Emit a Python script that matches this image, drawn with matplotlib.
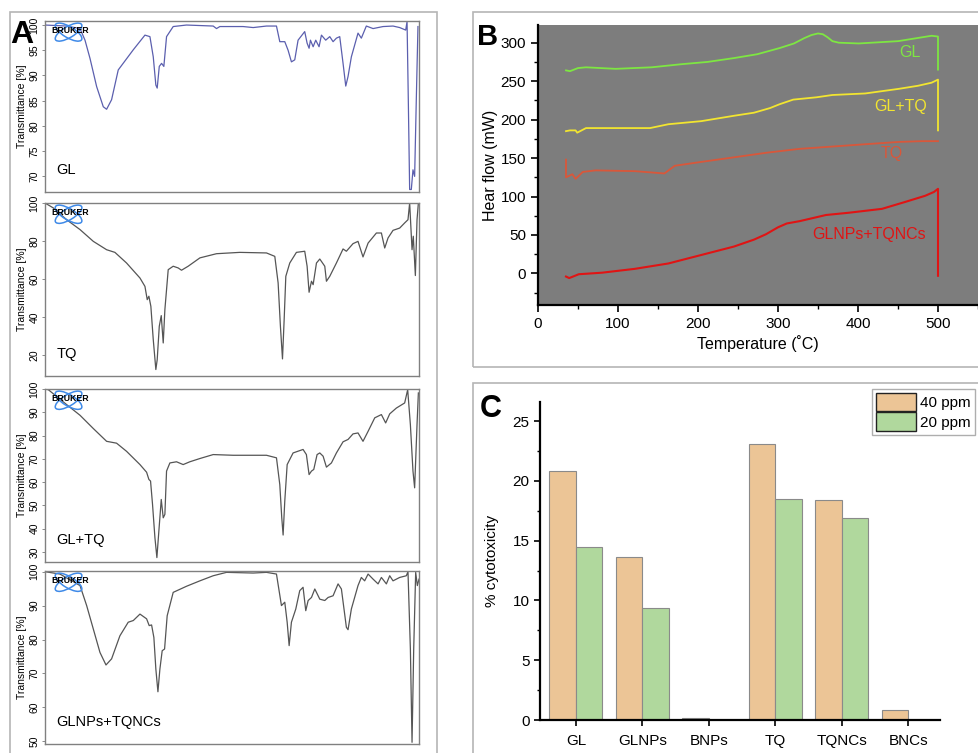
import numpy as np
import matplotlib
matplotlib.use("Agg")
import matplotlib.pyplot as plt
from matplotlib.patches import Ellipse, Rectangle
from matplotlib.ticker import MultipleLocator

plt.rcParams['font.family'] = ['Liberation Sans', 'DejaVu Sans']

# ---- panel A: FTIR spectra (wavenumber cm-1, transmittance %) ----
gl_wn = [4000, 3792, 3663, 3615, 3567, 3503, 3439, 3407, 3359, 3295, 3150, 3038, 2990, 2958, 2933, 2920,
         2900, 2878, 2856, 2830, 2766, 2638, 2381, 2349, 2317, 2093, 1996, 1868, 1772, 1740, 1692, 1660,
         1628, 1596, 1564, 1500, 1477, 1458, 1445, 1419, 1394, 1362, 1339, 1298, 1259, 1227, 1195, 1163,
         1131, 1105, 1083, 1051, 987, 955, 907, 842, 746, 650, 586, 528, 515, 503, 490, 474, 458, 442,
         426, 410]
gl_tr = [100.0, 99.8, 99.3, 97.0, 93.4, 87.8, 83.8, 83.3, 85.2, 91.1, 95.1, 98.0, 97.7, 93.7, 88.1, 87.5,
         91.8, 92.4, 91.8, 97.7, 99.7, 100.0, 99.8, 99.3, 99.7, 99.7, 99.5, 99.8, 99.8, 96.7, 96.7, 95.0,
         92.7, 93.1, 97.0, 98.7, 96.4, 95.4, 97.0, 95.7, 97.0, 95.7, 98.0, 97.0, 97.7, 96.7, 97.4, 97.7,
         92.4, 87.9, 89.8, 93.7, 98.4, 97.4, 99.8, 99.3, 99.7, 99.8, 99.5, 99.0, 100.7, 85.2, 67.4, 67.4,
         71.3, 70.0, 85.2, 99.7]

tq_wn = [4000, 3920, 3792, 3663, 3535, 3407, 3327, 3215, 3086, 3038, 3016, 3000, 2981, 2958, 2933, 2920,
         2900, 2881, 2862, 2846, 2814, 2766, 2718, 2686, 2622, 2509, 2349, 2125, 1868, 1788, 1756, 1734,
         1714, 1698, 1682, 1644, 1580, 1500, 1477, 1458, 1435, 1419, 1387, 1355, 1307, 1291, 1259, 1195,
         1131, 1099, 1035, 987, 939, 890, 810, 762, 730, 698, 650, 586, 538, 506, 490, 467, 455, 435,
         419, 406]
tq_tr = [100.0, 97.4, 91.2, 86.0, 79.8, 75.4, 74.0, 68.4, 60.5, 56.1, 49.1, 50.9, 45.6, 28.1, 12.3, 17.5,
         35.1, 40.7, 26.3, 43.9, 64.9, 66.7, 65.8, 64.6, 66.7, 71.1, 73.3, 74.0, 73.7, 71.9, 57.9, 35.1,
         17.9, 38.6, 61.4, 68.4, 74.0, 74.6, 66.7, 53.0, 58.8, 57.0, 68.4, 70.5, 66.7, 58.8, 61.4, 68.4,
         75.8, 74.6, 78.6, 79.8, 71.6, 78.9, 84.2, 84.2, 76.3, 81.6, 85.6, 86.8, 89.5, 91.2, 100.0, 75.4,
         82.5, 61.8, 91.2, 100.0]

gltq_wn = [4000, 3968, 3792, 3663, 3535, 3407, 3311, 3215, 3086, 3022, 3000, 2984, 2965, 2942, 2923, 2904,
           2881, 2862, 2846, 2830, 2798, 2734, 2670, 2606, 2509, 2381, 2189, 1868, 1772, 1740, 1721, 1708,
           1692, 1669, 1612, 1516, 1484, 1458, 1435, 1413, 1381, 1355, 1323, 1291, 1243, 1195, 1131, 1083,
           1035, 987, 939, 890, 826, 762, 721, 682, 618, 538, 509, 483, 458, 442, 419, 406]
gltq_tr = [100.0, 99.7, 93.3, 88.7, 83.0, 77.5, 76.7, 73.2, 67.5, 64.2, 61.1, 60.4, 50.4, 36.1, 27.5, 38.9,
           52.5, 44.6, 46.1, 64.7, 68.2, 68.7, 67.5, 68.7, 70.1, 71.8, 71.5, 71.5, 70.4, 58.9, 44.6, 37.2,
           51.8, 67.5, 72.5, 74.0, 71.8, 63.2, 64.7, 65.4, 71.8, 72.5, 71.1, 66.4, 68.2, 72.5, 77.3, 78.3,
           80.7, 81.1, 77.5, 81.8, 87.6, 89.0, 85.4, 89.3, 91.8, 94.0, 99.7, 84.7, 64.7, 57.5, 84.7, 98.3]

nc_wn = [4000, 3856, 3663, 3599, 3535, 3471, 3413, 3359, 3279, 3199, 3150, 3086, 3022, 2997, 2974, 2952,
         2933, 2913, 2894, 2872, 2849, 2824, 2766, 2638, 2509, 2381, 2253, 1996, 1868, 1772, 1724, 1692,
         1669, 1650, 1628, 1586, 1548, 1532, 1516, 1490, 1467, 1435, 1403, 1355, 1307, 1275, 1227, 1179,
         1147, 1099, 1083, 1051, 987, 955, 923, 890, 842, 794, 762, 714, 682, 650, 586, 522, 506, 483,
         467, 451, 432, 416, 400]
nc_tr = [100.0, 99.3, 95.9, 90.0, 83.1, 76.2, 72.5, 74.3, 81.1, 85.1, 85.6, 87.5, 86.1, 84.1, 84.3, 80.6,
         71.3, 64.6, 71.3, 76.7, 77.2, 87.0, 93.9, 95.7, 97.3, 98.8, 99.8, 99.6, 99.8, 99.3, 90.0, 91.0,
         85.1, 78.2, 85.1, 89.0, 94.4, 94.9, 95.4, 88.5, 91.5, 92.4, 94.9, 91.9, 91.5, 92.4, 92.9, 96.4,
         94.9, 83.6, 82.9, 89.0, 95.9, 98.3, 97.3, 99.3, 97.8, 96.4, 98.3, 96.4, 98.8, 97.3, 98.3, 98.8,
         100.0, 77.2, 49.7, 77.2, 99.8, 95.9, 97.8]

# ---- panel B: DSC curves (temperature C, heat flow mW) ----
dsc_gl_t = [35, 40, 50, 60, 97, 142, 179, 212, 245, 274, 302, 320, 333, 342, 350, 356, 362, 368, 376,
            401, 450, 492, 500, 500]
dsc_gl_q = [264, 263, 267, 268, 266, 268, 272, 275, 280, 285, 293, 299, 306, 310, 312, 311, 307, 302, 300,
            299, 302, 309, 308, 265]
dsc_gltq_t = [35, 40, 47, 49, 60, 140, 163, 204, 245, 270, 290, 302, 319, 348, 368, 409, 451, 475, 492, 500, 500]
dsc_gltq_q = [185, 186, 186, 183, 189, 189, 194, 198, 205, 209, 215, 220, 226, 229, 232, 234, 240, 244, 248, 252, 186]
dsc_tq_t = [35, 35, 43, 47, 56, 72, 121, 158, 171, 204, 245, 286, 327, 368, 409, 451, 480, 500]
dsc_tq_q = [148, 125, 129, 123, 132, 134, 133, 130, 140, 145, 151, 157, 162, 165, 168, 171, 172, 172]
dsc_nc_t = [35, 39, 51, 80, 121, 163, 204, 245, 270, 285, 300, 311, 327, 360, 389, 430, 459, 484, 495, 500, 500]
dsc_nc_q = [-4, -6, -1, 1, 6, 13, 24, 35, 44, 51, 60, 65, 68, 76, 79, 84, 93, 101, 106, 110, -3]

# ---- panel C: cytotoxicity ----
samples = ['GL', 'GLNPs', 'BNPs', 'TQ', 'TQNCs', 'BNCs']
tox_40 = [20.8, 13.6, 0.15, 23.1, 18.4, 0.85]
tox_20 = [14.5, 9.4, 0.0, 18.5, 16.9, 0.0]

W, H = 979, 753
fig = plt.figure(figsize=(W / 100, H / 100), dpi=100)


def px_axes(x0, y0, x1, y1):
    return fig.add_axes([x0 / W, 1 - y1 / H, (x1 - x0) / W, (y1 - y0) / H])


# panel frames
for (x0, y0, x1, y1) in [(10, 12, 437, 760), (473, 12, 985, 367), (473, 383, 985, 760)]:
    fig.patches.append(Rectangle((x0 / W, 1 - y1 / H), (x1 - x0) / W, (y1 - y0) / H,
                                 transform=fig.transFigure, fill=False, ec='#b5b5b5', lw=1.2))

# ---------- panel A ----------
specs = [
    (gl_wn, gl_tr, 'GL', '#5b5fae', (21, 192), (66.9, 100.8), np.arange(70, 101, 5)),
    (tq_wn, tq_tr, 'TQ', '#555555', (203, 376), (8.9, 100), np.arange(20, 101, 20)),
    (gltq_wn, gltq_tr, 'GL+TQ', '#555555', (389, 562), (25.6, 100), np.arange(30, 101, 10)),
    (nc_wn, nc_tr, 'GLNPs+TQNCs', '#555555', (571, 744), (49.2, 100.2), np.arange(50, 101, 10)),
]
for wn, tr, name, col, (yt, yb), ylim, yt_vals in specs:
    ax = px_axes(45, yt, 419, yb)
    ax.plot(wn, tr, color=col, lw=0.9)
    ax.set_xlim(4000, 400)
    ax.set_ylim(*ylim)
    ax.set_xticks([])
    ax.set_yticks(yt_vals)
    ax.tick_params(axis='y', labelsize=7.5, length=2.5, width=0.6, color='#777777', pad=1.5)
    for lab in ax.get_yticklabels():
        lab.set_rotation(90)
        lab.set_va('center')
    for s in ax.spines.values():
        s.set_color('#808080')
        s.set_linewidth(1.0)
    ax.set_ylabel('Transmittance [%]', fontsize=7.5, labelpad=2)
    ax.text(0.03, 0.13, name, transform=ax.transAxes, fontsize=10.5, va='center', ha='left')
    # Bruker logo
    lg = ax.inset_axes([0.012, 0.84, 0.11, 0.19])
    lg.set_xlim(0, 41)
    lg.set_ylim(0, 32)
    lg.axis('off')
    for ang in (30, -30):
        lg.add_patch(Ellipse((19, 16), 30, 11, angle=ang, fill=False, ec='#3f8ae8', lw=1.1))
    lg.text(21, 18, 'BRUKER', fontsize=6.3, fontweight='bold', ha='center', va='center')

fig.text(10 / W, 1 - 35 / H, 'A', fontsize=23, fontweight='bold', va='center', ha='left')

# ---------- panel B ----------
axb = px_axes(538, 25, 978, 305)
axb.set_facecolor('#7d7d7d')
axb.plot(dsc_gl_t, dsc_gl_q, color='#7ee642', lw=1.3)
axb.plot(dsc_gltq_t, dsc_gltq_q, color='#f2e530', lw=1.3)
axb.plot(dsc_tq_t, dsc_tq_q, color='#d9573a', lw=1.3)
axb.plot(dsc_nc_t, dsc_nc_q, color='#e01414', lw=1.5)
axb.text(465, 287, 'GL', color='#7ee642', fontsize=11.5, ha='center', va='center')
axb.text(453, 217, 'GL+TQ', color='#f2e530', fontsize=11.5, ha='center', va='center')
axb.text(442, 156, 'TQ', color='#d9573a', fontsize=11.5, ha='center', va='center')
axb.text(414, 50, 'GLNPs+TQNCs', color='#e01414', fontsize=11.5, ha='center', va='center')
axb.set_xlim(0, 550)
axb.set_ylim(-41, 323)
axb.set_xticks(np.arange(0, 501, 100))
axb.set_yticks(np.arange(0, 301, 50))
axb.xaxis.set_minor_locator(MultipleLocator(50))
axb.yaxis.set_minor_locator(MultipleLocator(25))
axb.tick_params(which='major', direction='out', length=5, width=1.2, labelsize=11)
axb.tick_params(which='minor', direction='out', length=3, width=1.0)
for side in ('top', 'right'):
    axb.spines[side].set_visible(False)
for side in ('left', 'bottom'):
    axb.spines[side].set_linewidth(1.6)
axb.set_ylabel('Hear flow (mW)', fontsize=11.5, labelpad=2)
axb.set_xlabel('Temperature (˚C)', fontsize=11.5, labelpad=3)
fig.text(477 / W, 1 - 37 / H, 'B', fontsize=21, fontweight='bold', va='center', ha='left')

# ---------- panel C ----------
axc = px_axes(540, 402, 940, 720)
x = np.arange(len(samples))
bw = 0.4
axc.bar(x - bw / 2, tox_40, bw, color='#ecc596', edgecolor='#8a8a8a', lw=0.8, label='40 ppm')
axc.bar(x + bw / 2, tox_20, bw, color='#b0d89d', edgecolor='#8a8a8a', lw=0.8, label='20 ppm')
axc.set_xlim(-0.54, 5.48)
axc.set_ylim(0, 26.6)
axc.set_xticks(x)
axc.set_xticklabels(samples)
axc.set_yticks(np.arange(0, 26, 5))
axc.yaxis.set_minor_locator(MultipleLocator(2.5))
axc.tick_params(which='major', direction='out', length=4, width=1.2, labelsize=11)
axc.tick_params(which='minor', direction='out', length=2.5, width=1.0)
axc.tick_params(axis='x', pad=6)
for side in ('top', 'right'):
    axc.spines[side].set_visible(False)
for side in ('left', 'bottom'):
    axc.spines[side].set_linewidth(1.6)
axc.set_ylabel('% cytotoxicity', fontsize=11, labelpad=10)
leg = axc.legend(loc='upper left', bbox_to_anchor=(872 / W, 1 - 389 / H), bbox_transform=fig.transFigure,
                 fontsize=11, frameon=True, fancybox=False, edgecolor='#9a9a9a', handlelength=2.6,
                 handleheight=1.5, handletextpad=0.3, borderpad=0.25, labelspacing=0.05, borderaxespad=0)
for p in leg.get_patches():
    p.set_edgecolor('#222222')
    p.set_linewidth(1.0)
fig.text(480 / W, 1 - 409 / H, 'C', fontsize=22, fontweight='bold', va='center', ha='left')

fig.savefig('out.png', dpi=100)
